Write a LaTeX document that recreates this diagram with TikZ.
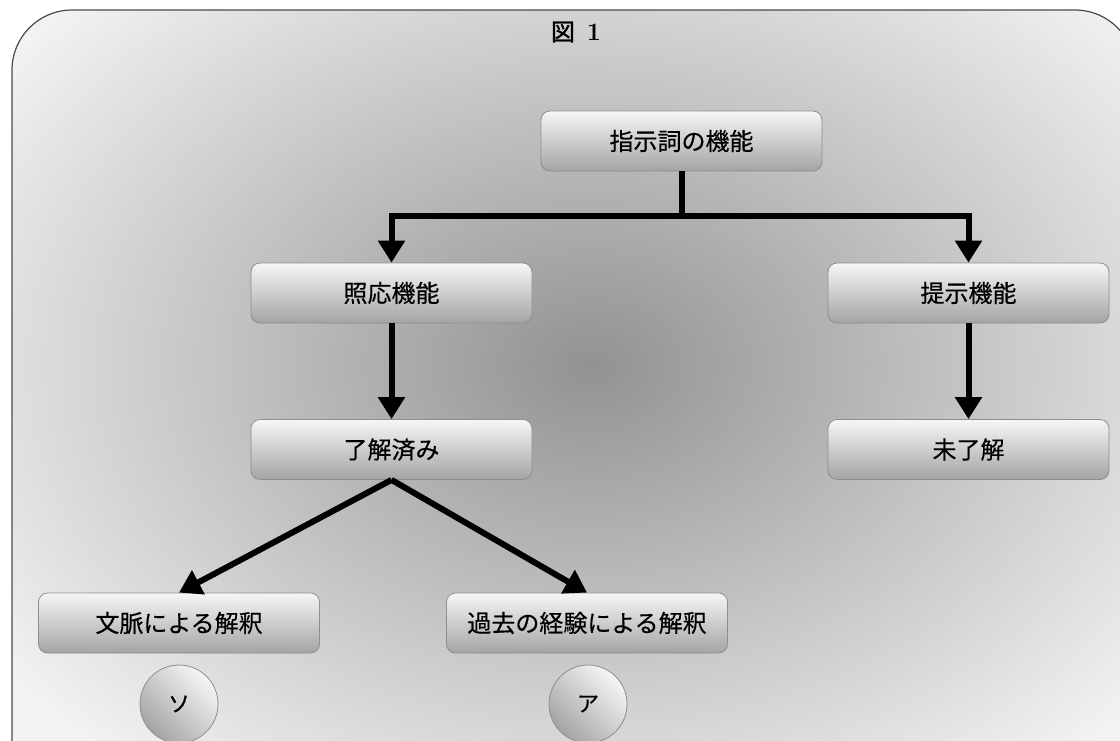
\documentclass[tikz,border=0pt]{standalone}
\usepackage{fontspec}
\newfontfamily\cjk[FakeBold=0.4]{Noto Sans CJK JP}
\newfontfamily\cjktitle[FakeBold=1.5]{Noto Sans CJK JP}
\usetikzlibrary{arrows.meta}
\definecolor{bgin}{HTML}{929292}
\definecolor{bgout}{HTML}{F2F2F2}
\definecolor{boxtop}{HTML}{F6F6F6}
\definecolor{boxbot}{HTML}{A4A4A4}
\definecolor{boxline}{HTML}{8E8E8E}
\definecolor{framecol}{HTML}{4A4A4A}
\tikzset{
  box/.style={rounded corners=9pt, draw=boxline, line width=0.8pt,
    top color=boxtop, bottom color=boxbot,
    minimum width=281pt, minimum height=60pt, inner sep=0pt,
    font=\cjk\fontsize{24}{28}\selectfont},
  ball/.style={circle, draw=boxline, line width=0.8pt,
    top color=boxtop, bottom color=boxbot, shading angle=-45,
    minimum size=78pt, inner sep=0pt,
    font=\cjk\fontsize{22}{26}\selectfont},
  conn/.style={line width=6pt, draw=black},
  arr/.style={conn, -{Triangle[width=26pt,length=22pt]}},
}
\begin{document}
\begin{tikzpicture}[x=1pt,y=1pt]
\useasboundingbox (0,0) rectangle (1120,-740);
\clip (0,0) rectangle (1120,-740);
% background frame
\begin{scope}
  \clip[rounded corners=60pt] (12,-10) rectangle (1135,-800);
  \shade[inner color=bgin, outer color=bgout] (590-720,-365+520) rectangle (590+720,-365-520);
\end{scope}
\draw[framecol, line width=1.2pt, rounded corners=60pt] (12,-10) rectangle (1135,-800);
% title
\node (title) at (576,-32) {{\cjktitle\fontsize{24}{28}\selectfont 図}\hspace{12pt}{\fontsize{25}{28}\selectfont\bfseries 1}};
% boxes
\node[box] (root) at (681.5,-141) {指示詞の機能};
\node[box] (ana)  at (391.5,-293) {照応機能};
\node[box] (pres) at (968.5,-293) {提示機能};
\node[box] (known) at (391.5,-449.5) {了解済み};
\node[box] (unknown) at (968.5,-449.5) {未了解};
\node[box] (ctx) at (179,-623) {文脈による解釈};
\node[box] (exp) at (587,-623) {過去の経験による解釈};
\node[ball] (so) at (179,-704) {ソ};
\node[ball] (a)  at (588,-704) {ア};
% connectors
\coordinate (split) at (681.5,-216);
\draw[conn] (root.south) -- (split);
\draw[arr] (split) -| (ana.north);
\draw[arr] (split) -| (pres.north);
\draw[arr] (ana.south) -- (known.north);
\draw[arr] (pres.south) -- (unknown.north);
\draw[arr] (known.south) -- (ctx.north);
\draw[arr] (known.south) -- (exp.north);
\end{tikzpicture}
\end{document}
